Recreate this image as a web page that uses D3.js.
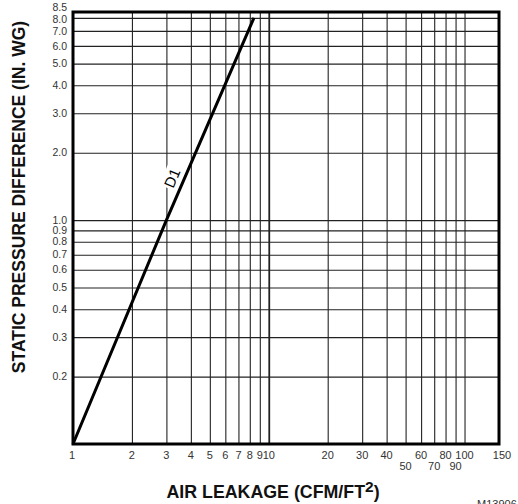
<!DOCTYPE html>
<html>
<head>
<meta charset="utf-8">
<script src="https://cdn.jsdelivr.net/npm/d3@7"></script>
<style>
  html, body { margin: 0; padding: 0; background: #fff; }
  svg { display: block; font-family: "Liberation Sans", Arial, sans-serif; }
</style>
</head>
<body>
<svg id="chart" width="518" height="504"></svg>
<script>
// Air leakage vs static pressure difference (log-log)
const xDomain = [1, 150];
const yDomain = [0.1, 8.5];

// vertical grid values and their labels (lower row flags staggered labels)
const xGrid = [2, 3, 4, 5, 6, 7, 8, 9, 10, 20, 30, 40, 50, 60, 70, 80, 90, 100];
const xTickValues = [1, 2, 3, 4, 5, 6, 7, 8, 9, 10, 20, 30, 40, 50, 60, 70, 80, 90, 100, 150];
const xTickLabels = ["1", "2", "3", "4", "5", "6", "7", "8", "9", "10", "20", "30", "40", "50", "60", "70", "80", "90", "100", "150"];
const xLowerRow = [50, 70, 90];

// horizontal grid values and labels
const yGrid = [0.2, 0.3, 0.4, 0.5, 0.6, 0.7, 0.8, 0.9, 1.0, 2.0, 3.0, 4.0, 5.0, 6.0, 7.0, 8.0];
const yTickValues = [0.2, 0.3, 0.4, 0.5, 0.6, 0.7, 0.8, 0.9, 1.0, 2.0, 3.0, 4.0, 5.0, 6.0, 7.0, 8.0, 8.5];
const yTickLabels = ["0.2", "0.3", "0.4", "0.5", "0.6", "0.7", "0.8", "0.9", "1.0", "2.0", "3.0", "4.0", "5.0", "6.0", "7.0", "8.0", "8.5"];

// curve D1: leakage (x) vs pressure difference (y)
const d1Leakage = [1, 3, 8.4];
const d1Pressure = [0.1, 1.0, 8.0];
const curveName = "D1";

const margin = { left: 73, right: 19, top: 12, bottom: 60 };
const W = 518, H = 504;

const x = d3.scaleLog().domain(xDomain).range([margin.left, W - margin.right]);
const y = d3.scaleLog().domain(yDomain).range([H - margin.bottom, margin.top]);

const svg = d3.select("#chart");

// grid lines via axes with full-length ticks
const gx = svg.append("g")
  .attr("transform", `translate(0,${y(yDomain[0])})`)
  .call(d3.axisBottom(x).tickValues(xGrid).tickSize(-(y(yDomain[0]) - y(yDomain[1]))).tickFormat(""));
gx.select(".domain").remove();
gx.selectAll("line").attr("stroke", "#222").attr("stroke-width", d => d === 10 ? 1.8 : 1.1);

const gy = svg.append("g")
  .attr("transform", `translate(${x(xDomain[0])},0)`)
  .call(d3.axisLeft(y).tickValues(yGrid).tickSize(-(x(xDomain[1]) - x(xDomain[0]))).tickFormat(""));
gy.select(".domain").remove();
gy.selectAll("line").attr("stroke", "#222").attr("stroke-width", 1.1);

// x tick labels
const xLab = svg.append("g").attr("font-size", 11).attr("fill", "#333").attr("text-anchor", "middle");
xLab.selectAll("text").data(xTickValues).join("text")
  .attr("x", d => x(d) + (d === 150 ? 3 : 0) - (d === 1 ? 1 : 0))
  .attr("y", d => xLowerRow.includes(d) ? 470 : 459)
  .text((d, i) => xTickLabels[i]);

// y tick labels
const yLab = svg.append("g").attr("font-size", 10.5).attr("fill", "#333").attr("text-anchor", "end");
yLab.selectAll("text").data(yTickValues).join("text")
  .attr("x", 67)
  .attr("y", d => y(d) + (d === 8.5 ? -4.5 : d === 8.0 ? 1 : 0))
  .attr("dy", "0.35em")
  .text((d, i) => yTickLabels[i]);

// curve
const line = d3.line().x(d => x(d[0])).y(d => y(d[1]));
const pts = d1Leakage.map((v, i) => [v, d1Pressure[i]]);
svg.append("path").datum(pts)
  .attr("d", line)
  .attr("fill", "none").attr("stroke", "#000").attr("stroke-width", 3)
  .attr("stroke-linecap", "butt");

// curve label, set along the line on a white ground
const p0 = [x(pts[0][0]), y(pts[0][1])];
const p1 = [x(pts[pts.length - 1][0]), y(pts[pts.length - 1][1])];
const ang = Math.atan2(p1[1] - p0[1], p1[0] - p0[0]) * 180 / Math.PI;
const labG = svg.append("g").attr("transform", `translate(172,178) rotate(${ang})`);
labG.append("rect").attr("x", -11).attr("y", -9).attr("width", 22).attr("height", 17).attr("fill", "#fff");
labG.append("text").attr("text-anchor", "middle").attr("dy", "0.36em")
  .attr("font-size", 15).attr("fill", "#000").text(curveName);

// frame
svg.append("rect")
  .attr("x", x(xDomain[0])).attr("y", y(yDomain[1]))
  .attr("width", x(xDomain[1]) - x(xDomain[0]))
  .attr("height", y(yDomain[0]) - y(yDomain[1]))
  .attr("fill", "none").attr("stroke", "#000").attr("stroke-width", 3);

// axis titles
svg.append("text")
  .attr("transform", `translate(25,197) rotate(-90)`)
  .attr("text-anchor", "middle").attr("font-weight", "bold").attr("font-size", 17.5)
  .attr("fill", "#111")
  .text("STATIC PRESSURE DIFFERENCE (IN. WG)");

const xt = svg.append("text")
  .attr("x", 273).attr("y", 498)
  .attr("text-anchor", "middle").attr("font-weight", "bold").attr("font-size", 17.8)
  .attr("fill", "#111");
xt.append("tspan").text("AIR LEAKAGE (CFM/FT");
xt.append("tspan").attr("dy", -6).attr("font-size", 15.5).text("2");
xt.append("tspan").attr("dy", 6).text(")");

svg.append("text").attr("x", 477).attr("y", 508)
  .attr("font-size", 11).attr("fill", "#333").text("M13906");
</script>
</body>
</html>
